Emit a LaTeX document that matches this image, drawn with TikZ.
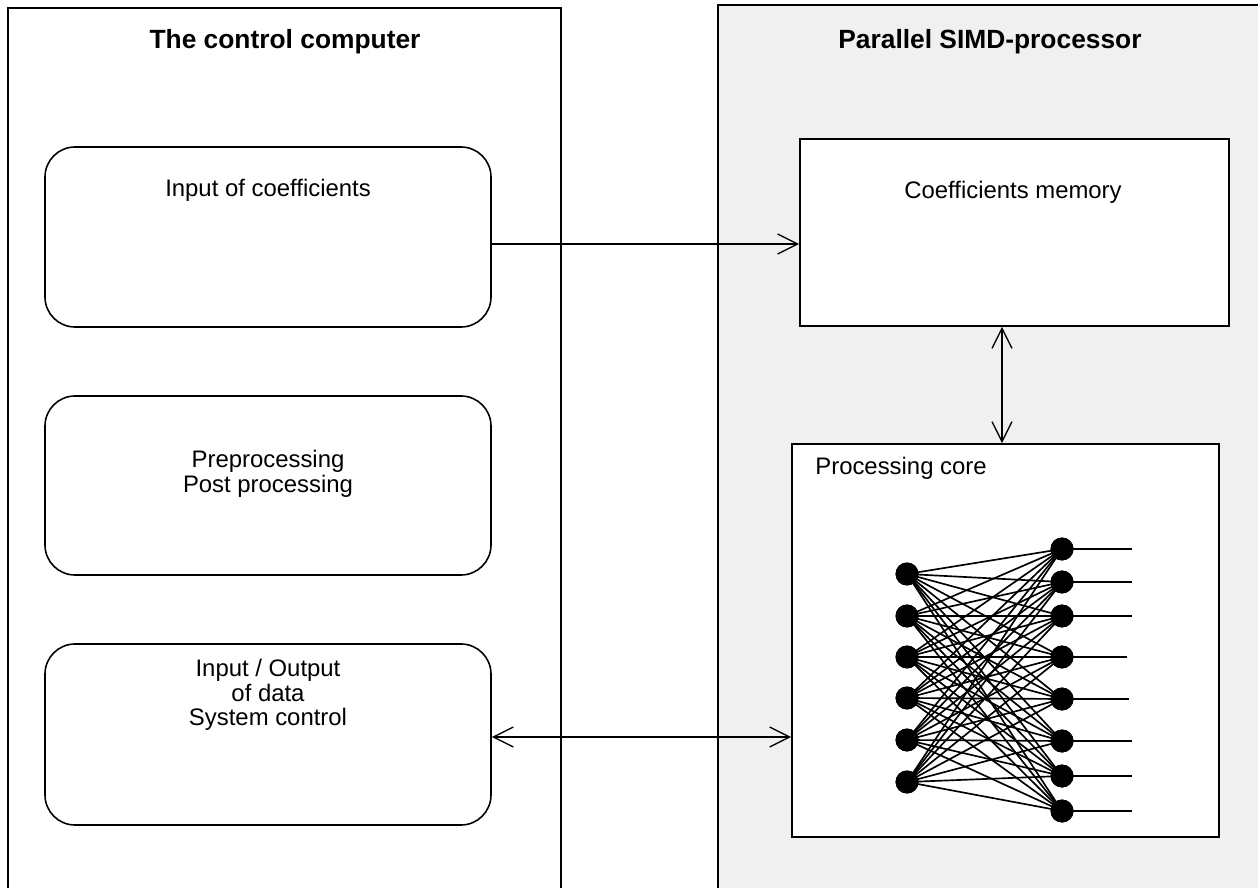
\documentclass[tikz,border=0pt]{standalone}
\usepackage{fontspec}
\setmainfont{Liberation Sans}
\usetikzlibrary{arrows.meta,fit}
\definecolor{panelgray}{RGB}{240,240,240}
\tikzset{
  panel/.style={draw, line width=1.2pt, inner sep=0pt},
  rbox/.style={draw, line width=0.9pt, rounded corners=0.6cm, inner sep=0pt, fill=white},
  sbox/.style={draw, line width=0.9pt, inner sep=0pt, fill=white},
  titletext/.style={font=\bfseries\fontsize{15}{15}\selectfont, inner sep=0pt},
  bodytext/.style={font=\fontsize{13.6}{13.9}\selectfont, inner sep=0pt, align=center},
  arr/.style={line width=0.8pt, -{Straight Barb[length=0.4cm,width=0.4cm,line width=0.8pt]}},
  arrtwo/.style={line width=0.8pt, {Straight Barb[length=0.4cm,width=0.4cm,line width=0.8pt]}-{Straight Barb[length=0.4cm,width=0.4cm,line width=0.8pt]}},
  neuron/.style={circle, fill=black, inner sep=0pt, minimum size=0.46cm},
  link/.style={line width=0.95pt}
}
\begin{document}
\begin{tikzpicture}[x=0.02cm,y=-0.02cm]
\useasboundingbox (0,0) rectangle (1258,888);
\clip (0,0) rectangle (1258,888);
\fill[white] (0,0) rectangle (1258,888);
% panels
\node[panel, fit={(8,8) (561,930)}] (ctl) {};
\node[panel, fill=panelgray, fit={(718,5) (1290,930)}] (simd) {};
\node[titletext, anchor=base] (t1) at (285,49) {The control computer};
\node[titletext, anchor=base] (t2) at (990,49) {Parallel SIMD-processor};
% left boxes
\node[rbox, fit={(45,147) (491,327)}] (b1) {};
\node[rbox, fit={(45,396) (491,575)}] (b2) {};
\node[rbox, fit={(45,644) (491,825)}] (b3) {};
\node[bodytext, anchor=base] (l1) at (268,197) {Input of coefficients};
\node[bodytext] (l2) at (268,474) {Preprocessing\\Post processing};
\node[bodytext] (l3) at (268,695) {Input / Output\\of data\\System control};
% right boxes
\node[sbox, fit={(800,139) (1229,326)}] (mem) {};
\node[sbox, fit={(792,444) (1219,837)}] (core) {};
\node[bodytext, anchor=base] (l4) at (1013,199) {Coefficients memory};
\node[bodytext, anchor=base west] (l5) at (815,475) {Processing core};
% connectors
\draw[arr] (b1.east |- 0,244) -- (mem.west |- 0,244);
\draw[arrtwo] (mem.south -| 1002,0) -- (core.north -| 1002,0);
\draw[arrtwo] (b3.east |- 0,737) -- (core.west |- 0,737);
% network
\foreach \i/\y in {1/574,2/616,3/657,4/698,5/740,6/782}
  \node[neuron] (L\i) at (907,\y) {};
\foreach \j/\y/\e in {1/549/1132,2/582/1132,3/616/1132,4/657/1127,5/699/1129,6/741/1132,7/776/1132,8/811/1132}{
  \node[neuron] (R\j) at (1062,\y) {};
  \coordinate (O\j) at (\e,\y);
}
\foreach \i in {1,...,6}
  \foreach \j in {1,...,8}
    \draw[link] (L\i.center) -- (R\j.center);
\foreach \j in {1,...,8}
  \draw[link] (R\j.center) -- (O\j);
\foreach \i in {1,...,6}
  \fill (L\i) circle (0.23cm);
\foreach \j in {1,...,8}
  \fill (R\j) circle (0.23cm);
\end{tikzpicture}
\end{document}
